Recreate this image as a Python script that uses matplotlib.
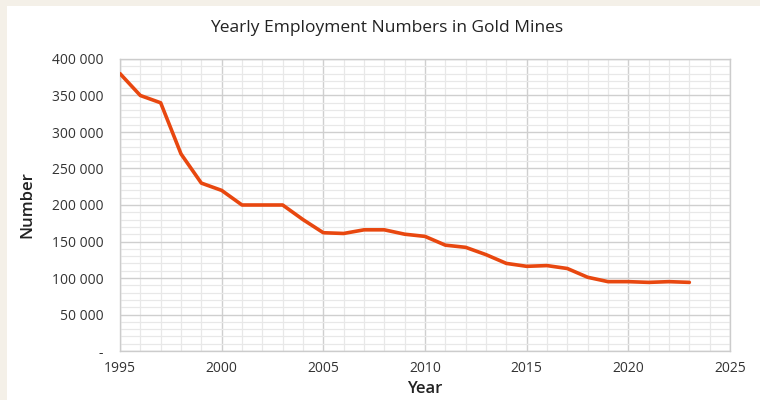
import numpy as np
import matplotlib
matplotlib.use("Agg")
import matplotlib.pyplot as plt
from matplotlib.ticker import MultipleLocator, FuncFormatter
from matplotlib.patches import Rectangle

# ── dados ──────────────────────────────────────────────────────────────
years = [1995, 1996, 1997, 1998, 1999, 2000, 2001, 2002, 2003, 2004,
         2005, 2006, 2007, 2008, 2009, 2010, 2011, 2012, 2013, 2014,
         2015, 2016, 2017, 2018, 2019, 2020, 2021, 2022, 2023]
employees = [380000, 350000, 340000, 270000, 230000, 220000, 200000, 200000,
             200000, 180000, 162000, 161000, 166000, 166000, 160000, 157000,
             145000, 142000, 132000, 120000, 116000, 117000, 113000, 101000,
             95000, 95000, 94000, 95000, 94000]
x_ticks = [1995, 2000, 2005, 2010, 2015, 2020, 2025]
y_ticks = [0, 50000, 100000, 150000, 200000, 250000, 300000, 350000, 400000]

plt.rcParams["font.family"] = ["Open Sans", "DejaVu Sans"]

fig = plt.figure(figsize=(7.6, 4.0), dpi=100)
fig.patch.set_facecolor("#f4f0e8")
fig.patches.append(Rectangle((7 / 760, 0), 1, 394 / 400, transform=fig.transFigure,
                             facecolor="white", edgecolor="none", zorder=-10))

ax = fig.add_axes([120 / 760, 49 / 400, 610 / 760, 292 / 400])
ax.set_facecolor("white")

ax.plot(years, employees, color="#e8470f", linewidth=2.6, solid_capstyle="round",
        solid_joinstyle="round", zorder=3)

ax.set_xlim(1995, 2025)
ax.set_ylim(0, 400000)
ax.set_xticks(x_ticks)
ax.set_yticks(y_ticks)
ax.xaxis.set_minor_locator(MultipleLocator(1))
ax.yaxis.set_minor_locator(MultipleLocator(10000))
ax.yaxis.set_major_formatter(FuncFormatter(
    lambda v, p: "-" if v == 0 else f"{int(v):,}".replace(",", " ")))

ax.grid(True, which="major", color="#cfcfcf", linewidth=1.0)
ax.grid(True, which="minor", color="#e8e8e8", linewidth=0.9)
ax.set_axisbelow(True)
ax.tick_params(which="both", length=0, colors="#333333", labelsize=10)
ax.tick_params(axis="x", pad=7)
ax.tick_params(axis="y", pad=12)
for spine in ax.spines.values():
    spine.set_edgecolor("#cccccc")
    spine.set_linewidth(1.0)

fig.text(387 / 760, 372 / 400, "Yearly Employment Numbers in Gold Mines",
         fontsize=12.5, color="#222222", ha="center", va="center")
ax.set_xlabel("Year", fontsize=12, color="#222222", fontweight="semibold", labelpad=4)
ax.set_ylabel("Number", fontsize=12, color="#222222", fontweight="semibold", labelpad=12)

fig.savefig("out.png", dpi=100, facecolor=fig.get_facecolor())
